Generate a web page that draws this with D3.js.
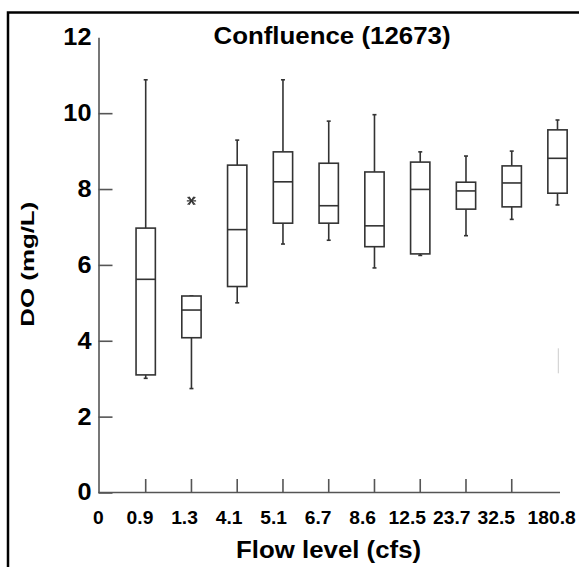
<!DOCTYPE html>
<html><head><meta charset="utf-8">
<script src="https://cdn.jsdelivr.net/npm/d3@7"></script>
<style>
body{margin:0;background:#fff}
svg{display:block}
text{font-family:"Liberation Sans",Arial,Helvetica,sans-serif;font-weight:bold;fill:#000}
</style>
</head><body>
<svg id="c" width="579" height="567"></svg>
<script>
// ---- data ----
const categories  = ["0.9","1.3","4.1","5.1","6.7","8.6","12.5","23.7","32.5","180.8"];
const whiskerHigh = [10.88, 5.18, 9.29, 10.88, 9.79, 9.96, 8.98, 8.87, 9.00, 9.82];
const q3          = [ 6.97, 5.18, 8.63,  8.98, 8.68, 8.45, 8.71, 8.18, 8.61, 9.56];
const median      = [ 5.62, 4.81, 6.93,  8.19, 7.56, 7.03, 7.99, 7.95, 8.16, 8.81];
const q1          = [ 3.10, 4.08, 5.43,  7.10, 7.10, 6.48, 6.29, 7.47, 7.53, 7.89];
const whiskerLow  = [ 3.01, 2.74, 5.00,  6.55, 6.65, 5.92, 6.25, 6.77, 7.20, 7.58];
const outlierCategory = ["1.3"];
const outlierValue    = [7.69];
const xTickLabels = ["0","0.9","1.3","4.1","5.1","6.7","8.6","12.5","23.7","32.5","180.8"];
const tickedCategories = ["0.9","1.3","4.1","5.1","6.7","8.6","12.5","23.7","32.5"];
const yTickValues = [0,2,4,6,8,10,12];
const titleText = "Confluence (12673)";
const xTitleText = "Flow level (cfs)";
const yTitleText = "DO (mg/L)";

const boxes = categories.map((c,i)=>({cat:c, hi:whiskerHigh[i], q3:q3[i], med:median[i], q1:q1[i], lo:whiskerLow[i]}));
const outliers = outlierCategory.map((c,i)=>({cat:c, v:outlierValue[i]}));

// ---- layout ----
const svg = d3.select("#c");
const axisX = 98.5, axisY = 492.5;
const y = d3.scaleLinear().domain([0,12]).range([492.5, 37.3]);
const x = d3.scalePoint().domain(categories).range([145.7, 557.5]);
// label row: piecewise-linear index scale (labels sit on their own evenly spaced row)
const nL = xTickLabels.length - 1;
const xl = d3.scaleLinear().domain([0, 1, nL - 1, nL]).range([98.3, 140, 496.3, 551.7]);
const boxW = 19.3, capW = 4;
const axisColor = "#555", boxColor = "#333";

// frame
svg.append("rect").attr("x",8).attr("y",12.5).attr("width",700).attr("height",700)
  .attr("fill","none").attr("stroke","#000").attr("stroke-width",2.5);

// y axis
const yAxis = d3.axisLeft(y).tickValues(yTickValues).tickSizeInner(-14).tickSizeOuter(0).tickPadding(7);
const gy = svg.append("g").attr("transform",`translate(${axisX},0)`).call(yAxis);
gy.attr("font-size",null).attr("font-family",null);
gy.select(".domain").attr("stroke",axisColor).attr("stroke-width",1.6);
gy.selectAll(".tick line").attr("stroke",axisColor).attr("stroke-width",1.6)
  .filter(d=>d===12).remove();
gy.selectAll(".tick text").style("font-size","23px").attr("fill","#000")
  .attr("textLength",function(){return this.getComputedTextLength()*1.1;})
  .attr("lengthAdjust","spacingAndGlyphs");

// x axis line + ticks
svg.append("line").attr("x1",axisX).attr("x2",560).attr("y1",axisY).attr("y2",axisY)
  .attr("stroke",axisColor).attr("stroke-width",1.6);
svg.append("g").selectAll("line").data(tickedCategories).join("line")
  .attr("x1",d=>x(d)).attr("x2",d=>x(d)).attr("y1",axisY).attr("y2",axisY-13.5)
  .attr("stroke",axisColor).attr("stroke-width",1.6);
svg.append("g").selectAll("text").data(xTickLabels).join("text")
  .attr("x",(d,i)=>xl(i)).attr("y",524).attr("text-anchor","middle")
  .style("font-size","17.5px").text(d=>d)
  .attr("textLength",function(){return this.getComputedTextLength()*1.1;})
  .attr("lengthAdjust","spacingAndGlyphs");

// boxes
const g = svg.append("g").attr("stroke",boxColor).attr("stroke-width",1.6).attr("fill","none");
const bg = g.selectAll("g").data(boxes).join("g");
bg.append("line").attr("x1",d=>x(d.cat)).attr("x2",d=>x(d.cat)).attr("y1",d=>y(d.q3)).attr("y2",d=>y(d.hi));
bg.append("line").attr("x1",d=>x(d.cat)).attr("x2",d=>x(d.cat)).attr("y1",d=>y(d.q1)).attr("y2",d=>y(d.lo));
bg.append("line").attr("x1",d=>x(d.cat)-capW/2).attr("x2",d=>x(d.cat)+capW/2).attr("y1",d=>y(d.hi)).attr("y2",d=>y(d.hi));
bg.append("line").attr("x1",d=>x(d.cat)-capW/2).attr("x2",d=>x(d.cat)+capW/2).attr("y1",d=>y(d.lo)).attr("y2",d=>y(d.lo));
bg.append("rect").attr("x",d=>x(d.cat)-boxW/2).attr("width",boxW)
  .attr("y",d=>y(d.q3)).attr("height",d=>y(d.q1)-y(d.q3)).attr("fill","#fff");
bg.append("line").attr("x1",d=>x(d.cat)-boxW/2).attr("x2",d=>x(d.cat)+boxW/2).attr("y1",d=>y(d.med)).attr("y2",d=>y(d.med));

// outliers (asterisk with caps)
const og = svg.append("g").selectAll("g").data(outliers).join("g")
  .attr("transform",d=>`translate(${x(d.cat)},${y(d.v)})`)
  .attr("stroke","#333").attr("stroke-width",1.2).attr("fill","none");
og.append("path").attr("d",d3.symbol(d3.symbolTimes,40));
og.append("path").attr("d",d3.symbol(d3.symbolAsterisk,60)).attr("transform","rotate(90)");

// faint artifact line
svg.append("line").attr("x1",558.3).attr("x2",558.3).attr("y1",348.3).attr("y2",373.3)
  .attr("stroke","#ccc").attr("stroke-width",1);

// titles
svg.append("text").attr("x",332).attr("y",44).attr("text-anchor","middle")
  .style("font-size","23.5px").attr("textLength",237).attr("lengthAdjust","spacingAndGlyphs").text(titleText);
svg.append("text").attr("x",328.6).attr("y",558).attr("text-anchor","middle")
  .style("font-size","23.5px").attr("textLength",185).attr("lengthAdjust","spacingAndGlyphs").text(xTitleText);
svg.append("text").attr("transform","translate(33.5,264.2) rotate(-90)").attr("text-anchor","middle")
  .style("font-size","18px").attr("textLength",125).attr("lengthAdjust","spacingAndGlyphs").text(yTitleText);
</script>
</body></html>
